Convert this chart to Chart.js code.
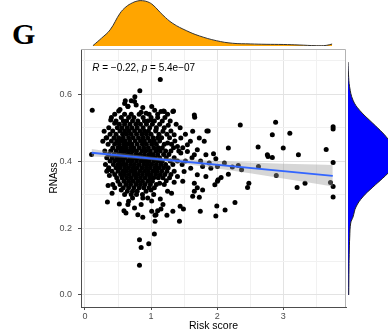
<!DOCTYPE html>
<html>
<head>
<meta charset="utf-8">
<script src="https://cdn.jsdelivr.net/npm/chart.js@4.4.0/dist/chart.umd.min.js"></script>
<style>
  html, body { margin: 0; padding: 0; background: #ffffff; }
  #wrap { position: relative; width: 388px; height: 335px; overflow: hidden; }
  canvas { position: absolute; }
  #panelLetter {
    position: absolute; left: 12px; top: 17px; line-height: 30px;
    font: bold 30px "Liberation Serif", "DejaVu Serif", serif; color: #000;
  }
</style>
</head>
<body>
<div id="wrap">
  <div id="panelLetter">G</div>
  <canvas id="main" width="388" height="335" style="left:0;top:0"></canvas>
  <canvas id="topDens" width="388" height="49" style="left:0;top:0"></canvas>
  <canvas id="rightDens" width="42" height="335" style="left:346px;top:0"></canvas>
</div>
<script>
// --- data ---

// sparse / outlying samples [risk score, RNAss]
var outerSamples = [
  [0.11,0.552],[0.83,0.61],[1.14,0.644],[0.755,0.592],[0.70,0.58],[0.60,0.572],[0.65,0.564],
  [0.53,0.554],[0.875,0.56],[1.055,0.552],[1.19,0.55],[1.34,0.55],[0.61,0.58],[0.75,0.578],
  [0.29,0.489],[0.27,0.459],[0.42,0.439],[0.35,0.374],[0.37,0.357],
  [0.35,0.327],[0.41,0.304],[0.34,0.278],[0.52,0.272],[0.59,0.252],[0.62,0.245],[0.75,0.26],
  [0.80,0.24],[0.875,0.232],[0.825,0.165],[0.85,0.142],[0.825,0.089],[0.965,0.153],[0.65,0.27],
  [0.72,0.29],[0.85,0.27],[0.875,0.29],[0.55,0.314],[0.45,0.32],[0.50,0.34],[0.925,0.31],
  [1.05,0.182],[1.43,0.22],[1.06,0.22],[1.745,0.25],[1.49,0.257],[1.44,0.265],[1.33,0.25],
  [1.24,0.238],[1.18,0.27],[1.075,0.24],[1.10,0.252],[1.15,0.257],[1.01,0.25],[1.06,0.238],
  [1.14,0.287],[1.04,0.30],[1.01,0.281],[1.25,0.31],[1.31,0.304],[1.63,0.295],[1.73,0.292],
  [1.655,0.31],[1.70,0.32],[1.78,0.314],[1.655,0.334],[1.48,0.34],[1.35,0.337],[1.23,0.341],
  [1.13,0.334],[1.0,0.314],
  [2.35,0.508],[2.885,0.516],[3.755,0.503],[3.755,0.496],[2.835,0.479],[3.10,0.483],[1.865,0.49],
  [2.17,0.439],[2.62,0.442],[2.76,0.419],[2.77,0.414],[2.835,0.411],[3.0,0.439],[3.23,0.419],
  [3.65,0.435],[3.755,0.396],[1.945,0.422],[1.98,0.407],[1.88,0.394],[2.11,0.394],[2.32,0.387],
  [2.23,0.382],[2.37,0.374],[2.625,0.384],[2.895,0.357],[2.17,0.361],[2.06,0.351],[2.015,0.344],
  [1.965,0.329],[2.48,0.334],[2.46,0.321],[3.21,0.321],[3.33,0.334],[3.715,0.336],[3.755,0.324],
  [2.005,0.384],[1.905,0.379],[2.005,0.34],[3.755,0.293],[1.995,0.266],[1.98,0.236],[2.12,0.254],
  [2.27,0.276],
  [1.01,0.563],[1.15,0.548],[1.33,0.548],[1.20,0.548],[1.10,0.53],[1.0,0.523],[1.26,0.507],
  [1.655,0.538],[1.66,0.531],[1.63,0.489],[1.845,0.49],[1.73,0.469],[1.805,0.459],[1.595,0.459],
  [1.45,0.469],[1.55,0.449],[1.70,0.434],[1.83,0.419],[1.655,0.419],[1.35,0.479],[1.18,0.489],
  [1.075,0.494],[1.40,0.444],[1.25,0.454],[1.45,0.424],[1.55,0.429],[1.60,0.379],[1.78,0.384],
  [1.50,0.369],[1.70,0.359],[1.83,0.354],[1.40,0.354],
  [0.51,0.55],[0.65,0.563],[0.775,0.568],[0.85,0.546],[0.925,0.543],[0.39,0.523],[0.45,0.513],
  [0.32,0.469]
];

// dense core, one row per RNAss level: [RNAss, risk scores...]
var coreRows = [
  [0.54, 0.45,0.60,0.70,0.82,0.97,1.10,1.25],
  [0.53, 0.40,0.55,0.66,0.74,0.88,1.00,1.21],
  [0.52, 0.47,0.58,0.63,0.72,0.80,0.90,0.95,1.05,1.17,1.29],
  [0.51, 0.52,0.60,0.68,0.77,0.84,0.93,1.02,1.13,1.38],
  [0.50, 0.36,0.49,0.56,0.64,0.71,0.79,0.88,0.98,1.08,1.20,1.44],
  [0.49, 0.42,0.53,0.60,0.67,0.75,0.83,0.90,0.96,1.07,1.30],
  [0.48, 0.38,0.47,0.57,0.63,0.70,0.78,0.86,0.93,1.00,1.12,1.24,1.52],
  [0.47, 0.33,0.44,0.51,0.58,0.66,0.73,0.81,0.88,0.95,1.03,1.10,1.16,1.28],
  [0.46, 0.40,0.48,0.55,0.61,0.68,0.76,0.84,0.90,0.98,1.05,1.13,1.36],
  [0.45, 0.35,0.45,0.52,0.59,0.65,0.71,0.79,0.87,0.93,1.01,1.08,1.20,1.31],
  [0.44, 0.50,0.56,0.62,0.69,0.74,0.82,0.89,0.96,1.04,1.11,1.17,1.34,1.48],
  [0.43, 0.30,0.39,0.47,0.54,0.60,0.66,0.72,0.78,0.86,0.92,0.99,1.07,1.14,1.22,1.30,1.42],
  [0.42, 0.10,0.36,0.44,0.51,0.57,0.64,0.70,0.77,0.83,0.90,0.97,1.03,1.10,1.19,1.27],
  [0.41, 0.33,0.41,0.48,0.55,0.61,0.68,0.74,0.80,0.87,0.94,1.00,1.06,1.13,1.23,1.35,1.62],
  [0.40, 0.38,0.45,0.52,0.58,0.65,0.71,0.78,0.85,0.91,0.97,1.04,1.11,1.17,1.29,1.40,1.52,1.75],
  [0.39, 0.31,0.43,0.50,0.56,0.62,0.69,0.75,0.82,0.89,0.95,1.01,1.08,1.15,1.22,1.33,1.47],
  [0.38, 0.36,0.47,0.53,0.60,0.66,0.73,0.79,0.86,0.93,0.99,1.06,1.12,1.19,1.26],
  [0.37, 0.33,0.41,0.50,0.57,0.63,0.70,0.76,0.83,0.90,0.96,1.03,1.09,1.16,1.24,1.35],
  [0.36, 0.45,0.54,0.60,0.67,0.74,0.80,0.87,0.94,1.00,1.07,1.14,1.21,1.30],
  [0.35, 0.48,0.56,0.63,0.70,0.77,0.84,0.91,0.98,1.04,1.11,1.18,1.28],
  [0.34, 0.59,0.66,0.73,0.80,0.87,0.95,1.02],
  [0.33, 0.42,0.53,0.62,0.69,0.77,0.84,0.91,0.99,1.08,1.20],
  [0.32, 0.58,0.66,0.74,0.82,0.89,0.97,1.05],
  [0.31, 0.64,0.72,0.79],
  [0.30, 0.60,0.70,0.78,0.87],
  [0.29, 0.95],
  [0.28, 0.66]
];

// linear fit and its confidence band
var fitX = [0.1, 3.75];
var fitY = [0.425, 0.356];
var bandX = [0.1, 0.5, 1.0, 1.5, 2.0, 2.5, 3.0, 3.5, 3.75];
var bandUpper = [0.436, 0.425, 0.413, 0.406, 0.400, 0.396, 0.392, 0.390, 0.388];
var bandLower = [0.414, 0.411, 0.403, 0.392, 0.378, 0.364, 0.348, 0.332, 0.324];

// marginal densities
var riskGrid = [0.12, 0.25, 0.38, 0.53, 0.62, 0.72, 0.80, 0.87, 0.95, 1.03, 1.18, 1.33, 1.54, 1.73, 1.99, 2.23, 2.50, 2.74, 3.00, 3.24, 3.50, 3.65, 3.74];
var riskDensity = [0.007, 0.17, 0.35, 0.71, 0.85, 0.94, 0.98, 0.985, 0.96, 0.89, 0.67, 0.49, 0.33, 0.22, 0.115, 0.06, 0.045, 0.037, 0.033, 0.022, 0.007, 0.013, 0.043];
var rnassGrid = [0.696, 0.66, 0.622, 0.582, 0.552, 0.513, 0.484, 0.463, 0.44, 0.413, 0.39, 0.364, 0.349, 0.322, 0.293, 0.263, 0.233, 0.215, 0.173, 0.12, 0.084, 0.0];
var rnassDensity = [0, 0.012, 0.04, 0.125, 0.29, 0.62, 0.87, 1.02, 1.17, 1.25, 1.17, 1.0, 0.87, 0.62, 0.37, 0.2, 0.125, 0.068, 0.043, 0.03, 0.025, 0.018];

// axis ranges (ggplot expanded limits)
var xRange = [-0.06, 3.95];
var yRange = [-0.036, 0.735];

// --- build point lists ---
var scatterPts = outerSamples.map(function (p) { return { x: p[0], y: p[1] }; });
coreRows.forEach(function (row) {
  for (var i = 1; i < row.length; i++) scatterPts.push({ x: row[i], y: row[0] });
});
var fitPts = fitX.map(function (x, i) { return { x: x, y: fitY[i] }; });
var upperPts = bandX.map(function (x, i) { return { x: x, y: bandUpper[i] }; });
var lowerPts = bandX.map(function (x, i) { return { x: x, y: bandLower[i] }; });

var tickFont = { family: '"Liberation Sans", Arial, sans-serif', size: 9 };
var xTitleFont = { family: '"Liberation Sans", Arial, sans-serif', size: 10.5 };
var yTitleFont = { family: '"Liberation Sans", Arial, sans-serif', size: 10 };

function xMajor(v) { return Math.abs(v - Math.round(v)) < 1e-6; }
function yMajor(v) { return Math.abs(v * 5 - Math.round(v * 5)) < 1e-6; }

// light border on top/right + the correlation label
var extras = {
  id: 'extras',
  afterDraw: function (chart) {
    var ctx = chart.ctx, a = chart.chartArea;
    ctx.save();
    ctx.strokeStyle = '#b3b3b3';
    ctx.lineWidth = 1;
    ctx.beginPath();
    ctx.moveTo(a.left, a.top + 0.5);
    ctx.lineTo(a.right - 0.5, a.top + 0.5);
    ctx.lineTo(a.right - 0.5, a.bottom);
    ctx.stroke();

    var parts = [['R', true], [' = \u22120.22, ', false], ['p', true], [' = 5.4e\u221207', false]];
    var x = chart.scales.x.getPixelForValue(0.11);
    var y = chart.scales.y.getPixelForValue(0.677);
    ctx.fillStyle = '#000';
    ctx.textBaseline = 'middle';
    ctx.textAlign = 'left';
    parts.forEach(function (p) {
      ctx.font = (p[1] ? 'italic ' : '') + '10px "Liberation Sans", Arial, sans-serif';
      ctx.fillText(p[0], x, y);
      x += ctx.measureText(p[0]).width;
    });
    ctx.restore();
  }
};

new Chart(document.getElementById('main'), {
  type: 'scatter',
  data: {
    datasets: [
      { type: 'line', data: fitPts, borderColor: '#3366FF', borderWidth: 1.8, pointRadius: 0, fill: false },
      { type: 'line', data: lowerPts, borderWidth: 0, borderColor: 'rgba(0,0,0,0)', pointRadius: 0, fill: false },
      { type: 'line', data: upperPts, borderWidth: 0, borderColor: 'rgba(0,0,0,0)', pointRadius: 0,
        fill: 1, backgroundColor: 'rgba(153,153,153,0.4)' },
      { data: scatterPts, backgroundColor: '#000000', borderWidth: 0, pointRadius: 2.5 }
    ]
  },
  options: {
    responsive: false,
    animation: false,
    events: [],
    layout: { padding: { top: 49, right: 42, left: 0, bottom: 0 } },
    plugins: { legend: { display: false }, tooltip: { enabled: false } },
    scales: {
      x: {
        type: 'linear', min: xRange[0], max: xRange[1],
        afterFit: function (s) { s.height = 28; },
        ticks: {
          stepSize: 0.5, includeBounds: false, autoSkip: false, maxRotation: 0, padding: 1,
          color: '#4d4d4d', font: tickFont,
          callback: function (v) { return xMajor(v) ? String(Math.round(v)) : ''; }
        },
        grid: {
          tickLength: 3,
          color: function (c) { return c.tick && xMajor(c.tick.value) ? '#e3e3e3' : '#f1f1f1'; },
          tickColor: function (c) { return c.tick && xMajor(c.tick.value) ? '#4d4d4d' : 'rgba(0,0,0,0)'; }
        },
        border: { color: '#4d4d4d', width: 1 },
        title: { display: true, text: 'Risk score', color: '#000', font: xTitleFont, padding: { top: 0, bottom: 3 } }
      },
      y: {
        type: 'linear', min: yRange[0], max: yRange[1],
        afterFit: function (s) { s.width = 81; },
        ticks: {
          stepSize: 0.1, includeBounds: false, autoSkip: false, padding: 6,
          color: '#4d4d4d', font: tickFont,
          callback: function (v) { return yMajor(v) ? v.toFixed(1) : ''; }
        },
        grid: {
          tickLength: 3,
          color: function (c) { return c.tick && yMajor(c.tick.value) ? '#e3e3e3' : '#f1f1f1'; },
          tickColor: function (c) { return c.tick && yMajor(c.tick.value) ? '#4d4d4d' : 'rgba(0,0,0,0)'; }
        },
        border: { color: '#4d4d4d', width: 1 },
        title: { display: true, text: 'RNAss', color: '#000', font: yTitleFont, padding: { top: 48, bottom: 0 } }
      }
    }
  },
  plugins: [extras]
});

// marginal density of the risk score (top)
new Chart(document.getElementById('topDens'), {
  type: 'line',
  data: {
    datasets: [{
      data: riskGrid.map(function (x, i) { return { x: x, y: riskDensity[i] }; }),
      fill: 'origin', backgroundColor: '#FFA500', borderColor: '#333333', borderWidth: 1,
      pointRadius: 0, tension: 0.4
    }]
  },
  options: {
    responsive: false, animation: false, events: [],
    layout: { padding: { left: 81, right: 42, top: 0, bottom: 3 } },
    plugins: { legend: { display: false }, tooltip: { enabled: false } },
    scales: {
      x: { type: 'linear', display: false, min: xRange[0], max: xRange[1] },
      y: { type: 'linear', display: false, min: 0, max: 1 }
    }
  }
});

// marginal density of RNAss (right)
new Chart(document.getElementById('rightDens'), {
  type: 'line',
  data: {
    datasets: [{
      data: rnassGrid.map(function (y, i) { return { x: rnassDensity[i], y: y }; }),
      fill: 'origin', backgroundColor: '#0000FF', borderColor: '#222222', borderWidth: 1,
      pointRadius: 0, tension: 0.4
    }]
  },
  options: {
    indexAxis: 'y',
    responsive: false, animation: false, events: [],
    layout: { padding: { left: 2, right: 0, top: 49, bottom: 28 } },
    plugins: { legend: { display: false }, tooltip: { enabled: false } },
    scales: {
      x: { type: 'linear', display: false, min: 0, max: 1 },
      y: { type: 'linear', display: false, min: yRange[0], max: yRange[1] }
    }
  }
});
</script>
</body>
</html>
